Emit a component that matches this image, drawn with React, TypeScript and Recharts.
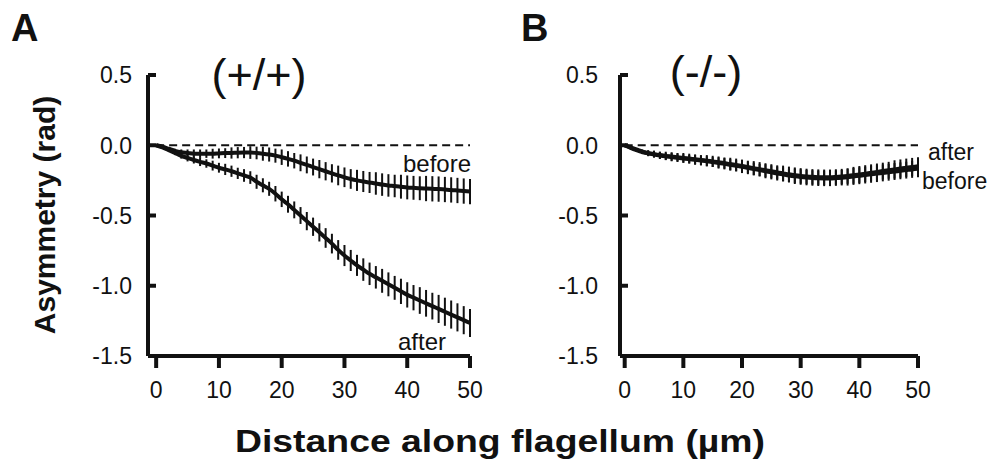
import React from "react";
import {
  LineChart,
  Line,
  XAxis,
  YAxis,
  ErrorBar,
  ReferenceLine,
} from "recharts";

// distance along flagellum (um)
const DIST = [
  0, 1, 2, 3, 4, 5, 6, 7, 8, 9, 10, 11, 12, 13, 14, 15, 16, 17, 18, 19, 20,
  21, 22, 23, 24, 25, 26, 27, 28, 29, 30, 31, 32, 33, 34, 35, 36, 37, 38, 39,
  40, 41, 42, 43, 44, 45, 46, 47, 48, 49, 50,
];

// panel A (+/+)
const A_BEFORE = [
  0, -0.01, -0.025, -0.04, -0.05, -0.055, -0.06, -0.06, -0.06, -0.06, -0.058,
  -0.056, -0.055, -0.053, -0.052, -0.052, -0.055, -0.06, -0.066, -0.074,
  -0.085, -0.097, -0.11, -0.125, -0.14, -0.155, -0.17, -0.185, -0.2, -0.215,
  -0.228, -0.24, -0.25, -0.258, -0.265, -0.272, -0.28, -0.286, -0.29, -0.295,
  -0.3, -0.303, -0.306, -0.308, -0.31, -0.312, -0.315, -0.318, -0.322, -0.326,
  -0.33,
];
const A_BEFORE_ERR = [
  0, 0.005, 0.01, 0.015, 0.02, 0.025, 0.03, 0.03, 0.03, 0.035, 0.035, 0.035,
  0.04, 0.04, 0.04, 0.045, 0.045, 0.05, 0.05, 0.05, 0.055, 0.055, 0.055, 0.06,
  0.06, 0.06, 0.065, 0.065, 0.065, 0.07, 0.07, 0.07, 0.075, 0.075, 0.075,
  0.08, 0.08, 0.08, 0.08, 0.085, 0.085, 0.085, 0.085, 0.09, 0.09, 0.09, 0.09,
  0.09, 0.09, 0.09, 0.09,
];
const A_AFTER = [
  0, -0.015, -0.035, -0.055, -0.075, -0.09, -0.105, -0.118, -0.13, -0.145,
  -0.16, -0.172, -0.185, -0.2, -0.215, -0.23, -0.26, -0.285, -0.31, -0.345,
  -0.385, -0.42, -0.46, -0.5, -0.54, -0.58, -0.62, -0.66, -0.7, -0.745,
  -0.785, -0.82, -0.855, -0.885, -0.915, -0.94, -0.965, -0.99, -1.015, -1.04,
  -1.065, -1.085, -1.105, -1.125, -1.145, -1.165, -1.185, -1.205, -1.225,
  -1.245, -1.265,
];
const A_AFTER_ERR = [
  0, 0.005, 0.01, 0.015, 0.02, 0.025, 0.025, 0.03, 0.03, 0.035, 0.035, 0.04,
  0.04, 0.04, 0.045, 0.045, 0.05, 0.05, 0.05, 0.055, 0.055, 0.06, 0.06, 0.06,
  0.065, 0.065, 0.065, 0.07, 0.07, 0.07, 0.075, 0.075, 0.075, 0.08, 0.08,
  0.08, 0.085, 0.085, 0.085, 0.09, 0.09, 0.09, 0.095, 0.095, 0.095, 0.1, 0.1,
  0.1, 0.1, 0.1, 0.1,
];

// panel B (-/-)
const B_AFTER = [
  0, -0.015, -0.03, -0.045, -0.055, -0.063, -0.07, -0.076, -0.08, -0.085,
  -0.09, -0.095, -0.1, -0.105, -0.11, -0.115, -0.12, -0.127, -0.134, -0.14,
  -0.147, -0.155, -0.163, -0.17, -0.178, -0.185, -0.193, -0.2, -0.207, -0.213,
  -0.218, -0.222, -0.225, -0.227, -0.228, -0.228, -0.226, -0.223, -0.219,
  -0.214, -0.208, -0.202, -0.196, -0.19, -0.184, -0.178, -0.172, -0.166,
  -0.16, -0.155, -0.15,
];
const B_AFTER_ERR = [
  0, 0.005, 0.01, 0.015, 0.02, 0.025, 0.025, 0.03, 0.03, 0.03, 0.035, 0.035,
  0.035, 0.035, 0.04, 0.04, 0.04, 0.04, 0.045, 0.045, 0.045, 0.045, 0.05,
  0.05, 0.05, 0.05, 0.05, 0.055, 0.055, 0.055, 0.055, 0.055, 0.055, 0.055,
  0.055, 0.055, 0.055, 0.055, 0.055, 0.06, 0.06, 0.06, 0.06, 0.06, 0.06, 0.06,
  0.065, 0.065, 0.065, 0.065, 0.065,
];
const B_BEFORE = [
  0, -0.018, -0.034, -0.048, -0.058, -0.066, -0.073, -0.079, -0.084, -0.089,
  -0.094, -0.099, -0.104, -0.109, -0.114, -0.12, -0.126, -0.132, -0.139,
  -0.146, -0.153, -0.161, -0.169, -0.177, -0.185, -0.193, -0.201, -0.208,
  -0.215, -0.221, -0.226, -0.23, -0.233, -0.235, -0.236, -0.236, -0.234,
  -0.231, -0.227, -0.222, -0.217, -0.212, -0.207, -0.202, -0.197, -0.192,
  -0.187, -0.182, -0.177, -0.172, -0.168,
];
const B_BEFORE_ERR = [
  0, 0.005, 0.01, 0.015, 0.02, 0.02, 0.025, 0.025, 0.03, 0.03, 0.03, 0.03,
  0.035, 0.035, 0.035, 0.035, 0.04, 0.04, 0.04, 0.04, 0.045, 0.045, 0.045,
  0.045, 0.05, 0.05, 0.05, 0.05, 0.05, 0.055, 0.055, 0.055, 0.055, 0.055,
  0.055, 0.055, 0.055, 0.055, 0.06, 0.06, 0.06, 0.06, 0.06, 0.06, 0.06, 0.06,
  0.06, 0.06, 0.06, 0.06, 0.06,
];

const X_TICKS = [0, 10, 20, 30, 40, 50];
const Y_TICKS = [0.5, 0, -0.5, -1, -1.5];

const FONT = '"Liberation Sans", Arial, Helvetica, sans-serif';
const INK = "#111";

const dataA = DIST.map((d, i) => ({
  d,
  before: A_BEFORE[i],
  beforeErr: A_BEFORE_ERR[i],
  after: A_AFTER[i],
  afterErr: A_AFTER_ERR[i],
}));

const dataB = DIST.map((d, i) => ({
  d,
  before: B_BEFORE[i],
  beforeErr: B_BEFORE_ERR[i],
  after: B_AFTER[i],
  afterErr: B_AFTER_ERR[i],
}));

const tickStyle = { fontSize: 23, fill: INK, fontFamily: FONT };

// y tick: label to the left, short tick pointing into the plot
function makeYTick(gap: number) {
  return (props: any) => {
    const { x, y, payload } = props;
    const ax = x + gap;
    return (
      <g>
        <line x1={ax} x2={ax + 8} y1={y} y2={y} stroke={INK} strokeWidth={4} />
        <text
          x={x}
          y={y}
          dy="0.36em"
          textAnchor="end"
          fontSize={23}
          fontFamily={FONT}
          fill={INK}
        >
          {Number(payload.value).toFixed(1)}
        </text>
      </g>
    );
  };
}

function Panel({
  data,
  width,
  left,
  right,
  xMin,
  yLabelGap,
}: {
  data: any[];
  width: number;
  left: number;
  right: number;
  xMin: number;
  yLabelGap: number;
}) {
  return (
    <LineChart
      width={width}
      height={470}
      data={data}
      margin={{ top: 75, right, bottom: 74, left }}
    >
      <XAxis
        dataKey="d"
        type="number"
        domain={[xMin, 50]}
        ticks={X_TICKS}
        allowDataOverflow
        height={40}
        tickSize={12}
        tickMargin={14}
        axisLine={{ stroke: INK, strokeWidth: 4 }}
        tickLine={{ stroke: INK, strokeWidth: 4 }}
        tick={tickStyle}
      />
      <YAxis
        type="number"
        domain={[-1.5, 0.5]}
        ticks={Y_TICKS}
        width={60}
        tickSize={0}
        tickMargin={yLabelGap}
        tickLine={false}
        axisLine={{ stroke: INK, strokeWidth: 4 }}
        tick={makeYTick(yLabelGap)}
      />
      <ReferenceLine
        segment={[
          { x: 0, y: 0 },
          { x: 50, y: 0 },
        ]}
        stroke={INK}
        strokeWidth={2}
        strokeDasharray="8 5"
      />
      <Line
        dataKey="before"
        type="monotone"
        stroke={INK}
        strokeWidth={4}
        dot={false}
        isAnimationActive={false}
      >
        <ErrorBar dataKey="beforeErr" width={0} stroke={INK} strokeWidth={2} direction="y" />
      </Line>
      <Line
        dataKey="after"
        type="monotone"
        stroke={INK}
        strokeWidth={4}
        dot={false}
        isAnimationActive={false}
      >
        <ErrorBar dataKey="afterErr" width={0} stroke={INK} strokeWidth={2} direction="y" />
      </Line>
    </LineChart>
  );
}

export default function App() {
  return (
    <div
      style={{
        position: "absolute",
        left: 0,
        top: 0,
        width: 999,
        height: 470,
        background: "#fff",
        fontFamily: FONT,
      }}
    >
      <div style={{ position: "absolute", left: 0, top: 0 }}>
        <Panel data={dataA} width={490} left={88} right={20} xMin={-1.3} yLabelGap={16} />
      </div>
      <div style={{ position: "absolute", left: 490, top: 0 }}>
        <Panel data={dataB} width={509} left={70} right={81} xMin={-0.8} yLabelGap={22} />
      </div>
      <svg
        width={999}
        height={470}
        style={{ position: "absolute", left: 0, top: 0, pointerEvents: "none" }}
        fontFamily={FONT}
        fill={INK}
      >
        <text x={11} y={41} fontSize={38} fontWeight="bold">A</text>
        <text x={521} y={41} fontSize={38} fontWeight="bold">B</text>
        <text x={259} y={90} fontSize={45} textAnchor="middle">(+/+)</text>
        <text x={706} y={87} fontSize={45} textAnchor="middle">(-/-)</text>
        <text x={471} y={172} fontSize={24} textAnchor="end">before</text>
        <text x={446} y={350} fontSize={24} textAnchor="end">after</text>
        <text x={928} y={160} fontSize={23}>after</text>
        <text x={922} y={189} fontSize={23}>before</text>
        <text
          x={0}
          y={0}
          fontSize={30}
          fontWeight="bold"
          textAnchor="middle"
          transform="translate(55 215) rotate(-90)"
        >
          Asymmetry (rad)
        </text>
        <text
          x={500}
          y={452}
          fontSize={31}
          fontWeight="bold"
          textAnchor="middle"
          textLength={530}
          lengthAdjust="spacingAndGlyphs"
        >
          Distance along flagellum (µm)
        </text>
      </svg>
    </div>
  );
}
